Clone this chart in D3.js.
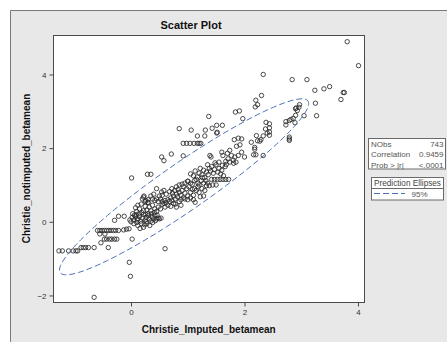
<!DOCTYPE html>
<html><head><meta charset="utf-8">
<script src="https://cdn.jsdelivr.net/npm/d3@7"></script>
<style>body{margin:0;background:#fff}svg{display:block;font-family:Arial,"Liberation Sans",sans-serif}</style>
</head><body>
<svg id="c" width="447" height="342"></svg>
<script>
const title = "Scatter Plot";
const xLabel = "Christie_Imputed_betamean";
const yLabel = "Christie_notimputed_betamean";
const xTicks = [0, 2, 4];
const yTicks = [-2, 0, 2, 4];
const statNames = ["NObs", "Correlation", "Prob > |r|"];
const statValues = ["743", "0.9459", "<.0001"];
const legendTitle = "Prediction Ellipses";
const legendLabel = "95%";
const ellipseCenter = [0.935, 0.95];
const ellipseSD = [0.897, 0.976];
const ellipseCorr = 0.9459;
const ellipseScale = 2.4477;

const points = [
 // high outliers / upper scatter
 [3.81,4.89],[4.01,4.24],[2.33,4.00],[2.84,3.86],[3.10,3.86],[3.24,3.57],[3.40,3.61],[3.50,3.67],
 [3.74,3.51],[3.76,3.51],[3.70,3.32],[3.25,3.22],[3.27,2.88],[3.05,2.88],[2.30,3.43],[2.20,3.30],
 [2.23,3.18],[2.19,3.12],[1.91,3.01],[1.84,2.98],[1.97,2.80],[1.37,2.86],[0.85,2.53],[1.06,2.49],
 [1.31,2.49],[1.43,2.54],[1.51,2.62],[1.61,2.62],[1.52,2.43],[1.17,2.33],[1.30,2.33],
 [0.92,2.13],[0.98,2.13],[1.04,2.13],[1.11,2.13],[1.17,2.13],[1.20,2.13],[1.23,2.13],
 [0.71,1.84],[0.54,1.76],[0.58,1.66],[0.92,1.79],[0.01,1.19],[0.29,1.29],[0.35,1.29],
 // low outliers
 [0.60,-0.73],[-0.03,-1.10],[-0.01,-1.48],[-0.65,-2.05],[0.02,-0.47],
 // left groups
 [-1.27,-0.79],[-1.21,-0.79],[-1.10,-0.79],[-1.02,-0.79],[-0.97,-0.79],[-0.94,-0.79],
 [-0.88,-0.70],[-0.84,-0.70],[-0.80,-0.70],[-0.75,-0.70],[-0.65,-0.70],[-0.40,-0.70],
 [-0.59,-0.235],[-0.55,-0.235],[-0.51,-0.235],[-0.47,-0.235],[-0.43,-0.235],[-0.39,-0.235],
 [-0.35,-0.235],[-0.31,-0.235],[-0.27,-0.235],[-0.22,-0.235],[-0.13,-0.22],[-0.08,-0.20],
 [-0.55,-0.33],[-0.46,-0.33],
 [-0.47,-0.47],[-0.43,-0.47],[-0.38,-0.47],[-0.34,-0.47],[-0.29,-0.47],[-0.25,-0.47],
 [-0.53,-0.57],[-0.29,0.04],[-0.22,0.15],[-0.12,0.15],[-0.035,-0.19],
 // dense lower cluster
 [0.02,0.12],[0.05,0.05],[0.08,0.13],[0.10,-0.02],[0.12,0.08],[0.15,0.15],[0.17,0.02],[0.20,0.10],
 [0.22,0.20],[0.25,0.05],[0.27,0.12],[0.30,0.22],[0.32,0.08],[0.35,0.02],[0.37,0.14],[0.40,0.08],
 [0.42,0.18],[0.45,0.08],[0.48,0.10],[0.50,0.08],[0.05,-0.05],[0.12,-0.10],[0.18,-0.05],[0.22,-0.15],
 [0.28,-0.05],[0.33,-0.10],[0.38,-0.02],[0.03,0.22],[0.10,0.28],[0.15,0.35],[0.18,0.48],[0.22,0.30],
 [0.25,0.42],[0.28,0.32],[0.32,0.40],[0.35,0.30],[0.38,0.45],[0.42,0.35],[0.45,0.28],[0.48,0.40],
 [0.52,0.35],[0.55,0.48],[0.20,0.62],[0.25,0.55],[0.30,0.52],[0.12,0.45],[0.08,0.38],[0.00,0.00],
 [-0.02,0.05],[0.06,0.18],[0.14,0.22],[0.19,0.25],[0.26,0.20],[0.31,0.17],[0.36,0.22],[0.41,0.25],
 [0.46,0.18],[0.43,0.03],[0.53,0.10],[0.27,0.00],[0.16,-0.18],[0.11,0.05],[0.09,0.19],[0.24,-0.08],
 [0.23,0.70],[0.45,0.90],[0.54,0.81],[0.22,0.67],[0.26,0.58],[0.30,0.53],
 // band 0.5 - 1.2
 [0.55,0.55],[0.58,0.50],[0.60,0.58],[0.62,0.52],[0.65,0.60],[0.68,0.55],[0.70,0.65],[0.72,0.58],
 [0.75,0.70],[0.78,0.62],[0.80,0.75],[0.82,0.68],[0.85,0.80],[0.88,0.72],[0.90,0.85],[0.92,0.65],
 [0.95,0.78],[0.98,0.90],[1.00,0.70],[1.02,0.95],[1.05,0.80],[1.08,0.88],[1.10,0.72],[0.60,0.40],
 [0.65,0.45],[0.70,0.42],[0.75,0.50],[0.78,0.48],[0.85,0.55],[0.88,0.60],[0.95,0.62],[1.00,0.60],
 [1.05,0.65],[1.10,0.60],[1.12,0.90],[1.15,0.85],[1.18,0.95],[0.62,0.75],[0.68,0.82],[0.72,0.90],
 [0.80,0.95],[0.85,1.00],[0.90,1.02],[0.95,1.05],[0.52,0.62],[0.48,0.55],[0.45,0.62],[0.42,0.58],
 [0.50,0.70],[0.55,0.72],[0.58,0.85],[0.40,0.75],[0.35,0.70],[0.38,0.62],[0.30,0.60],
 [0.73,0.78],[0.77,0.85],[0.83,0.88],[1.00,1.10],[1.05,1.05],[0.93,0.95],[0.88,0.45],[0.80,0.40],
 [1.20,0.80],[1.25,0.90],[1.28,0.70],[1.22,0.68],[1.30,0.85],[1.33,0.98],[1.38,0.98],[1.44,1.00],
 [1.50,1.00],[1.13,0.53],
 // band 1.0 - 1.7
 [1.05,1.30],[1.10,1.25],[1.13,1.38],[1.17,1.22],[1.20,1.32],[1.22,1.45],[1.25,1.28],[1.28,1.40],
 [1.30,1.20],[1.33,1.35],[1.36,1.28],[1.38,1.45],[1.40,1.38],[1.42,1.50],[1.45,1.32],[1.47,1.42],
 [1.50,1.55],[1.53,1.35],[1.55,1.45],[1.58,1.30],[1.42,1.15],[1.47,1.15],[1.52,1.15],[1.57,1.15],
 [1.62,1.15],[1.67,1.15],[1.72,1.15],[1.60,1.40],[1.63,1.25],[1.66,1.50],[1.18,1.05],[1.12,1.12],
 [1.24,1.12],[1.28,1.05],[1.35,1.05],[1.08,1.02],[1.15,1.15],[1.20,1.00],[1.26,1.20],[1.32,1.12],
 [1.48,1.60],[1.55,1.62],[1.35,1.55],[1.00,1.10],
 // band 1.4 - 2.0
 [1.70,1.86],[1.60,1.89],[1.62,1.80],[1.74,1.94],[1.77,1.80],[1.71,1.71],[1.80,1.67],[1.85,1.62],
 [1.95,1.89],[1.89,1.80],[1.83,1.76],[1.67,1.64],[1.74,1.62],[1.81,1.59],[1.61,1.53],[1.68,1.56],
 [1.95,2.25],[1.92,2.09],[1.86,2.05],[1.82,2.23],[1.89,2.27],[2.00,1.76],[1.41,1.76],[1.51,2.41],[1.39,1.80],
 // band 2.1 - 2.5
 [2.38,2.70],[2.44,2.66],[2.44,2.55],[2.37,2.52],[2.44,2.44],[2.40,2.41],[2.33,2.33],[2.44,2.35],
 [2.21,2.34],[2.29,2.23],[2.27,2.19],[2.18,2.02],[2.18,1.97],[2.16,1.82],[2.20,1.82],[2.33,1.80],
 [2.12,2.16],[2.23,2.20],
 // band 2.7 - 3.0
 [2.97,3.18],[2.96,3.11],[2.91,3.09],[2.93,3.02],[2.90,3.07],[2.90,2.89],[2.86,2.81],[2.82,2.78],
 [2.79,2.75],[2.73,2.72],[2.73,2.63],[2.89,2.69],[2.79,2.30],[2.79,2.25],[2.79,2.21]
];

const svg = d3.select("#c");
const W = 447, H = 342;
const plot = {x0: 53.5, x1: 364.5, y0: 35.5, y1: 302.5};

// panel
svg.append("rect").attr("x",10).attr("y",10).attr("width",W-10).attr("height",H-10).attr("fill","#e8e8e8");
svg.append("path").attr("d",`M10.5,${H}V10.5H${W}`).attr("fill","none").attr("stroke","#7a7a7a").attr("stroke-width",1);

const x = d3.scaleLinear().domain([-1.366, 4.115]).range([plot.x0, plot.x1]);
const y = d3.scaleLinear().domain([-2.191, 5.058]).range([plot.y1, plot.y0]);

svg.append("rect").attr("x",plot.x0).attr("y",plot.y0).attr("width",plot.x1-plot.x0).attr("height",plot.y1-plot.y0)
  .attr("fill","#fff").attr("stroke","#4a4a4a").attr("stroke-width",1);

// axes
const xa = svg.append("g").attr("transform",`translate(0,${plot.y1})`)
  .call(d3.axisBottom(x).tickValues(xTicks).tickSize(4).tickPadding(3).tickFormat(d3.format("d")));
const ya = svg.append("g").attr("transform",`translate(${plot.x0},0)`)
  .call(d3.axisLeft(y).tickValues(yTicks).tickSize(4).tickPadding(3).tickFormat(d3.format("d")));
[xa, ya].forEach(g => {
  g.select(".domain").remove();
  g.selectAll("line").attr("stroke","#4a4a4a");
  g.selectAll("text").attr("fill","#333").style("font-size","8px").style("font-family","Arial, 'Liberation Sans', sans-serif");
});

// points
svg.append("g").selectAll("circle").data(points).join("circle")
  .attr("cx", d => x(d[0])).attr("cy", d => y(d[1])).attr("r", 2.2)
  .attr("fill","none").attr("stroke","#2a2a2a").attr("stroke-width",0.85);

// ellipse
const ts = d3.range(0, 361, 2).map(a => a * Math.PI / 180);
const ell = ts.map(t => [
  ellipseCenter[0] + ellipseScale * ellipseSD[0] * Math.cos(t),
  ellipseCenter[1] + ellipseScale * ellipseSD[1] * (ellipseCorr * Math.cos(t) + Math.sqrt(1 - ellipseCorr*ellipseCorr) * Math.sin(t))
]);
svg.append("path").datum(ell)
  .attr("d", d3.line().x(d => x(d[0])).y(d => y(d[1])))
  .attr("fill","none").attr("stroke","#4a6fb5").attr("stroke-width",1).attr("stroke-dasharray","6,3");

// titles
svg.append("text").attr("x",191).attr("y",29).attr("text-anchor","middle")
  .style("font-size","11px").style("font-weight","bold").attr("fill","#111").text(title);
svg.append("text").attr("x",208.7).attr("y",332.5).attr("text-anchor","middle")
  .style("font-size","10px").style("font-weight","bold").attr("fill","#111").text(xLabel);
svg.append("text").attr("transform","translate(30,168.5) rotate(-90)").attr("text-anchor","middle")
  .style("font-size","10px").style("font-weight","bold").attr("fill","#111").text(yLabel);

// stats box
const sb = {x:368.5, y:138.5, w:77, h:30.5};
svg.append("rect").attr("x",sb.x).attr("y",sb.y).attr("width",sb.w).attr("height",sb.h)
  .attr("fill","#fff").attr("stroke","#6a6a6a");
statNames.forEach((n,i) => {
  svg.append("text").attr("x",sb.x+2.5).attr("y",sb.y+8.3 + i*10.4).style("font-size","8px").attr("fill","#555").text(n);
  svg.append("text").attr("x",sb.x+sb.w-2).attr("y",sb.y+8.3 + i*10.4).attr("text-anchor","end").style("font-size","8px").attr("fill","#555").text(statValues[i]);
});

// legend box
const lb = {x:371.5, y:177.5, w:72, h:22.5};
svg.append("rect").attr("x",lb.x).attr("y",lb.y).attr("width",lb.w).attr("height",lb.h)
  .attr("fill","#fff").attr("stroke","#6a6a6a");
svg.append("line").attr("x1",lb.x).attr("x2",lb.x+lb.w).attr("y1",188.5).attr("y2",188.5).attr("stroke","#6a6a6a");
svg.append("text").attr("x",lb.x+lb.w/2).attr("y",185.8).attr("text-anchor","middle").style("font-size","8.2px").attr("fill","#444").text(legendTitle);
svg.append("line").attr("x1",374).attr("x2",405).attr("y1",193.5).attr("y2",193.5)
  .attr("stroke","#4a6fb5").attr("stroke-width",1).attr("stroke-dasharray","6,3");
svg.append("text").attr("x",419.5).attr("y",196.5).attr("text-anchor","middle").style("font-size","8px").attr("fill","#555").text(legendLabel);
</script>
</body></html>
